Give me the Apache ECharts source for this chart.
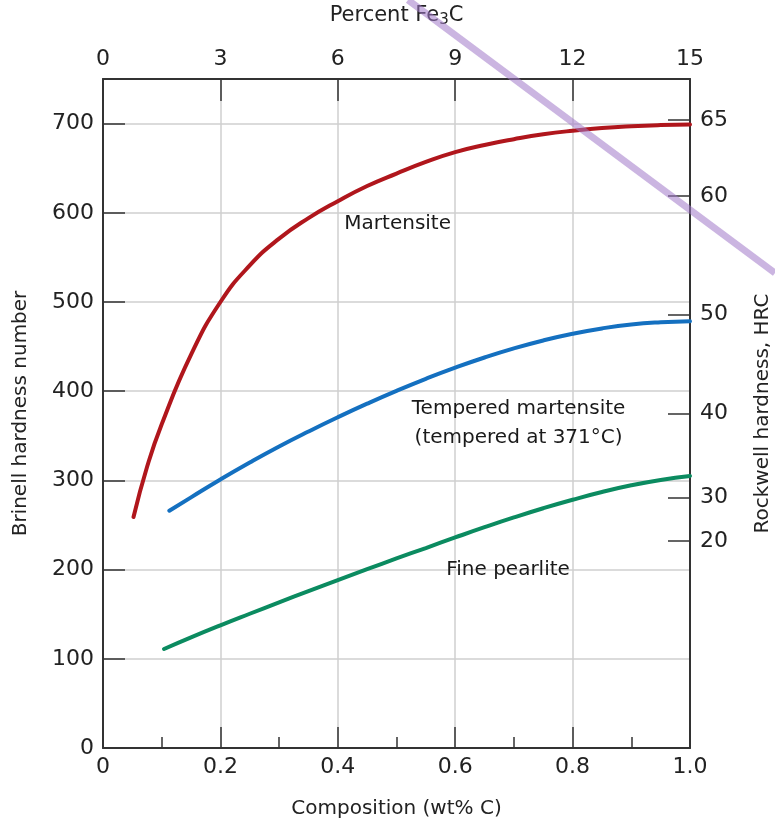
<!DOCTYPE html>
<html><head><meta charset="utf-8">
<script src="https://cdn.jsdelivr.net/npm/echarts@6/dist/echarts.min.js"></script>
<style>html,body{margin:0;padding:0;background:#fff}#c{width:775px;height:826px}</style>
</head><body><div id="c"></div>
<script>
// Composition (wt% C) and Brinell hardness for each curve
const martensiteC  = [0.052,0.075,0.1,0.15,0.2,0.25,0.3,0.35,0.4,0.45,0.5,0.55,0.6,0.65,0.7,0.75,0.8,0.85,0.9,0.95,1.0];
const martensiteHB = [259,315,363,441,500,541,571,594,613,630,644,657,668,676,682.5,688,692,695,697,698.3,699];
const temperedC  = [0.113,0.15,0.2,0.25,0.3,0.35,0.4,0.45,0.5,0.55,0.6,0.65,0.7,0.75,0.8,0.85,0.9,0.95,1.0];
const temperedHB = [266,281,301,320,338,354.8,370.8,386,400.4,413.9,426.4,437.8,448,456.9,464.4,470.4,474.8,477.3,478.5];
const pearliteC  = [0.104,0.15,0.2,0.25,0.3,0.35,0.4,0.45,0.5,0.55,0.6,0.65,0.7,0.75,0.8,0.85,0.9,0.95,1.0];
const pearliteHB = [111,124,137.5,150.5,163.3,175.9,188.3,200.5,212.5,224.2,236,247.5,258.5,268.8,278.3,287,294.5,300.5,305];

// Rockwell HRC ticks and their Brinell-equivalent positions
const hrcLabels  = [65,60,50,40,30,20];
const hrcBrinell = [704,619,486,375,281,232];

// Curve annotations [x, HB, text]
const curveLabels = [
  [0.502, 588, 'Martensite'],
  [0.708, 364, 'Tempered martensite\n(tempered at 371°C)'],
  [0.690, 200, 'Fine pearlite']
];

const FONT = 'DejaVu Sans';
const TXT = '#222';
const AX = { lineStyle: { color: '#333', width: 2 } };

const chart = echarts.init(document.getElementById('c'));
chart.setOption({
  backgroundColor: '#fff',
  animation: false,
  textStyle: { fontFamily: FONT, color: TXT },
  grid: { left: 103, right: 85, top: 79, bottom: 78, containLabel: false, outerBoundsMode: 'none' },
  xAxis: [
    {
      type: 'value', position: 'bottom', min: 0, max: 1, interval: 0.2,
      name: 'Composition (wt% C)', nameLocation: 'middle', nameGap: 51,
      nameTextStyle: { fontSize: 20, color: TXT, fontFamily: FONT },
      axisLine: { show: true, onZero: false, ...AX },
      axisTick: { show: true, inside: true, length: 21, lineStyle: { color: '#333', width: 1.5 } },
      minorTick: { show: true, splitNumber: 2, length: 11, lineStyle: { color: '#333', width: 1.5 } },
      axisLabel: { fontSize: 22, color: TXT, margin: 8, fontFamily: FONT,
        formatter: v => v === 0 ? '0' : v.toFixed(1) },
      splitLine: { show: true, lineStyle: { color: '#cfcfcf', width: 1.5 } }
    },
    {
      type: 'value', position: 'top', min: 0, max: 15, interval: 3,
      name: 'Percent Fe{sub|3}C', nameLocation: 'middle', nameGap: 51,
      nameTextStyle: { fontSize: 21, color: TXT, fontFamily: FONT,
        rich: { sub: { fontSize: 15, verticalAlign: 'bottom', padding: [9,0,0,0], color: TXT, fontFamily: FONT } } },
      axisLine: { show: true, onZero: false, ...AX },
      axisTick: { show: true, inside: true, length: 22, lineStyle: { color: '#333', width: 1.5 } },
      axisLabel: { fontSize: 22, color: TXT, margin: 9, fontFamily: FONT },
      splitLine: { show: false }
    }
  ],
  yAxis: [
    {
      type: 'value', position: 'left', min: 0, max: 750, interval: 100,
      name: 'Brinell hardness number', nameLocation: 'middle', nameGap: 72, nameRotate: 90,
      nameTextStyle: { fontSize: 20, color: TXT, fontFamily: FONT },
      axisLine: { show: true, onZero: false, ...AX },
      axisTick: { show: true, inside: true, length: 22, lineStyle: { color: '#333', width: 1.5 } },
      axisLabel: { fontSize: 22, color: TXT, margin: 9, showMaxLabel: false, fontFamily: FONT },
      splitLine: { show: true, lineStyle: { color: '#cfcfcf', width: 1.5 } }
    },
    {
      type: 'value', position: 'right', min: 0, max: 750,
      name: 'Rockwell hardness, HRC', nameLocation: 'middle', nameGap: 63, nameRotate: 90,
      nameTextStyle: { fontSize: 20, color: TXT, fontFamily: FONT },
      axisLine: { show: true, onZero: false, ...AX },
      axisTick: { show: true, inside: true, length: 22, customValues: hrcBrinell,
        lineStyle: { color: '#333', width: 1.5 } },
      axisLabel: { fontSize: 22, color: TXT, margin: 10, customValues: hrcBrinell, fontFamily: FONT,
        formatter: v => { const i = hrcBrinell.indexOf(v); return i >= 0 ? String(hrcLabels[i]) : ''; } },
      splitLine: { show: false }
    }
  ],
  series: [
    { type: 'line', name: 'Martensite', xAxisIndex: 0, yAxisIndex: 0, smooth: true,
      showSymbol: false, lineStyle: { color: '#b0161c', width: 4, cap: 'round' },
      data: martensiteC.map((c, i) => [c, martensiteHB[i]]) },
    { type: 'line', name: 'Tempered martensite', xAxisIndex: 0, yAxisIndex: 0, smooth: true,
      showSymbol: false, lineStyle: { color: '#1470c0', width: 4, cap: 'round' },
      data: temperedC.map((c, i) => [c, temperedHB[i]]) },
    { type: 'line', name: 'Fine pearlite', xAxisIndex: 0, yAxisIndex: 0, smooth: true,
      showSymbol: false, lineStyle: { color: '#0b8b60', width: 4, cap: 'round' },
      data: pearliteC.map((c, i) => [c, pearliteHB[i]]) },
    { type: 'scatter', xAxisIndex: 0, yAxisIndex: 0, symbolSize: 1, silent: true,
      itemStyle: { opacity: 0 },
      label: { show: true, position: 'inside', formatter: p => p.data[2],
        fontSize: 20, color: '#1a1a1a', opacity: 1, fontFamily: FONT, lineHeight: 29, align: 'center' },
      data: curveLabels }
  ],
  graphic: [
    { type: 'line', z: 100, silent: true,
      shape: { x1: 408, y1: 0, x2: 775, y2: 273 },
      style: { stroke: 'rgba(160,120,200,0.55)', lineWidth: 7 } }
  ]
});
</script>
</body></html>
